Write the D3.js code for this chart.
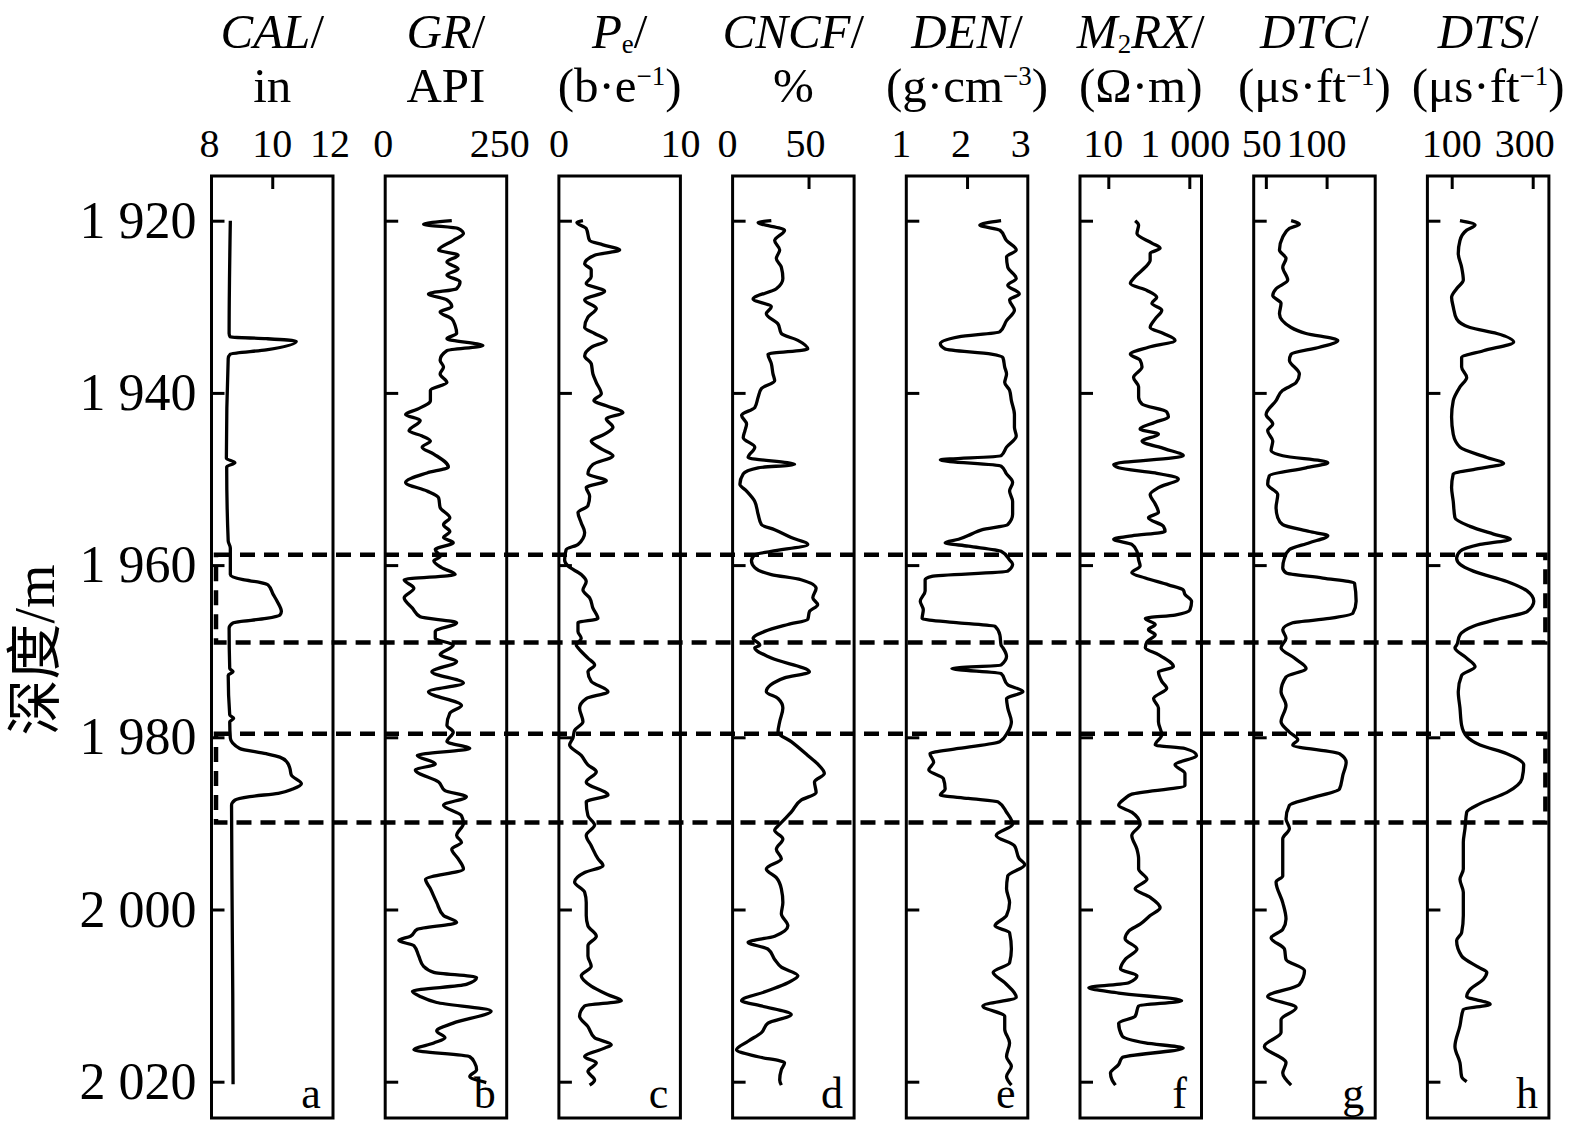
<!DOCTYPE html>
<html>
<head>
<meta charset="utf-8">
<script src="https://cdn.jsdelivr.net/npm/d3@7"></script>
<style>
html, body { margin: 0; padding: 0; background: #fff; }
svg { display: block; }
text { font-family: "Liberation Serif", "Times New Roman", serif; fill: #000; }
</style>
</head>
<body>
<svg id="chart" width="1575" height="1136"></svg>
<script>
// 深度刻度与两个解释层段
const depthTicks = [1920, 1940, 1960, 1980, 2000, 2020];
const zoneDepths = [[1958.8, 1969.0], [1979.6, 1989.9]];

// 各曲线 [深度, 值]
const calCurve = [[1920.0,8.62],[1933.1,8.58],[1933.5,8.62],[1933.7,9.8],[1934.0,10.79],[1935.0,9.8],[1935.5,8.62],[1936.0,8.55],[1947.6,8.49],[1948.1,8.77],[1948.6,8.5],[1957.2,8.55],[1958.0,8.62],[1961.1,8.62],[1961.7,9.04],[1962.0,9.59],[1962.3,9.86],[1963.4,10.03],[1964.2,10.16],[1965.4,10.3],[1965.8,10.25],[1966.2,9.8],[1966.7,8.71],[1967.3,8.58],[1972.0,8.6],[1972.4,8.71],[1972.8,8.55],[1977.4,8.6],[1977.8,8.73],[1978.2,8.6],[1980.1,8.62],[1981.3,8.93],[1981.9,9.8],[1982.3,10.25],[1982.9,10.49],[1983.6,10.58],[1984.4,10.63],[1985.4,10.96],[1986.0,10.68],[1986.5,10.2],[1986.9,9.26],[1987.3,8.77],[1987.9,8.66],[2000.0,8.68],[2010.0,8.7],[2020.3,8.71]];

const grCurve = [[1920.0,137],[1920.4,79],[1920.9,150],[1921.5,161],[1922.3,140],[1923.4,110],[1924.0,150],[1924.8,127],[1925.6,150],[1926.3,127],[1927.1,154],[1927.9,147],[1928.5,89],[1929.2,127],[1930.0,137],[1930.6,113],[1931.4,137],[1932.2,144],[1933.1,147],[1933.7,127],[1934.5,201],[1935.1,127],[1936.2,113],[1937.0,120],[1937.8,113],[1938.8,127],[1939.7,93],[1940.9,93],[1941.9,66],[1942.5,42],[1943.2,72],[1944.4,49],[1945.0,76],[1945.6,93],[1946.3,76],[1947.1,100],[1948.6,130],[1949.3,86],[1950.4,42],[1951.4,86],[1952.2,110],[1953.3,113],[1954.5,133],[1955.3,120],[1956.1,133],[1956.8,120],[1957.4,140],[1958.2,103],[1959.0,113],[1959.5,100],[1960.3,116],[1961.1,144],[1961.7,39],[1962.7,59],[1963.8,39],[1965.0,56],[1966.0,72],[1966.7,147],[1967.7,103],[1968.5,103],[1969.3,140],[1970.4,113],[1971.2,147],[1972.4,96],[1973.7,161],[1974.7,89],[1976.3,157],[1977.2,133],[1978.6,127],[1979.4,140],[1980.5,127],[1981.3,174],[1982.1,66],[1983.1,103],[1983.8,62],[1985.2,110],[1986.2,123],[1986.9,167],[1987.9,120],[1989.1,157],[1990.0,161],[1991.4,147],[1992.2,157],[1993.0,137],[1994.1,150],[1995.3,161],[1996.5,83],[1997.6,93],[1999.2,106],[2000.7,120],[2001.5,147],[2002.3,66],[2003.1,52],[2003.6,28],[2004.2,59],[2005.4,69],[2006.6,79],[2007.3,100],[2007.9,188],[2008.7,167],[2009.5,56],[2010.1,72],[2010.8,106],[2011.8,218],[2013.2,140],[2014.1,106],[2014.9,123],[2015.5,100],[2016.3,59],[2017.1,174],[2017.8,184],[2018.6,188],[2019.4,174],[2020.1,208]];

const peCurve = [[1920.0,1.98],[1920.2,1.48],[1920.9,2.25],[1922.3,2.53],[1922.8,3.63],[1923.4,5.0],[1924.0,2.94],[1925.0,2.12],[1925.7,2.66],[1926.5,2.66],[1927.3,2.25],[1928.2,3.76],[1929.2,2.12],[1930.2,3.08],[1931.2,2.39],[1932.4,2.12],[1933.1,2.94],[1933.9,3.9],[1934.7,2.66],[1935.7,2.12],[1936.6,2.66],[1937.8,2.8],[1938.8,3.08],[1940.1,3.49],[1940.9,2.88],[1941.5,3.9],[1942.3,5.27],[1943.0,3.9],[1944.0,4.45],[1944.8,3.76],[1945.6,2.66],[1946.5,3.49],[1947.3,4.45],[1948.3,2.8],[1949.4,2.39],[1950.2,3.9],[1951.0,2.25],[1952.0,2.53],[1953.1,2.39],[1953.9,1.57],[1955.1,1.84],[1956.2,2.12],[1957.6,1.57],[1958.2,0.6],[1959.4,0.47],[1960.1,0.74],[1961.1,1.84],[1961.9,2.25],[1962.9,1.98],[1963.8,2.53],[1965.0,2.8],[1966.2,3.21],[1966.7,1.57],[1967.7,1.57],[1968.5,1.84],[1969.3,1.43],[1969.6,1.57],[1970.8,2.39],[1971.6,2.94],[1972.4,2.39],[1973.5,2.66],[1974.7,4.04],[1975.5,2.25],[1976.6,1.7],[1978.2,1.98],[1979.2,1.29],[1980.1,1.15],[1980.9,0.88],[1982.1,1.84],[1983.2,2.39],[1984.0,3.08],[1985.2,2.25],[1986.7,4.04],[1987.5,2.25],[1989.1,2.39],[1990.2,2.94],[1991.4,2.25],[1992.6,2.66],[1994.1,3.21],[1994.9,3.63],[1995.7,2.12],[1996.8,1.29],[1998.0,2.12],[1999.2,2.25],[2000.7,2.25],[2001.9,2.39],[2003.1,3.08],[2004.2,2.39],[2005.4,2.39],[2006.6,2.66],[2007.7,1.84],[2008.9,2.66],[2009.9,4.04],[2010.6,5.14],[2011.2,2.12],[2012.4,1.7],[2013.6,2.39],[2014.9,2.94],[2015.7,4.31],[2016.1,3.76],[2017.1,2.12],[2017.8,3.08],[2018.8,2.39],[2019.8,2.94],[2020.4,2.53]];

const cncfCurve = [[1920.0,25.5],[1920.2,16.8],[1921.1,34.2],[1922.3,27.7],[1923.4,31.0],[1924.4,28.8],[1925.4,32.1],[1926.7,33.1],[1927.9,28.8],[1929.1,13.5],[1930.0,25.5],[1930.8,22.2],[1932.0,29.9],[1933.1,32.1],[1933.9,43.0],[1934.9,49.5],[1935.5,23.3],[1936.6,25.5],[1937.8,26.6],[1938.6,27.7],[1939.5,19.0],[1940.5,16.8],[1941.7,14.6],[1942.6,5.9],[1943.6,9.2],[1944.4,8.1],[1945.2,7.0],[1946.3,14.6],[1947.5,10.2],[1948.3,40.8],[1948.7,16.8],[1949.4,7.0],[1950.6,4.8],[1951.4,9.2],[1952.6,14.6],[1954.1,16.8],[1955.3,19.0],[1955.9,27.7],[1956.8,38.6],[1957.6,49.5],[1958.4,25.5],[1958.8,14.6],[1959.5,12.4],[1960.3,14.6],[1961.1,25.5],[1961.7,45.1],[1962.7,55.0],[1963.8,52.8],[1964.6,56.0],[1965.4,50.6],[1966.3,49.5],[1966.9,36.4],[1967.7,21.1],[1968.5,13.5],[1969.3,17.9],[1969.6,14.6],[1970.8,25.5],[1972.4,50.6],[1973.1,34.2],[1974.7,22.2],[1975.5,29.9],[1976.6,33.1],[1978.2,31.0],[1979.4,29.9],[1980.5,38.6],[1982.1,49.5],[1983.1,56.0],[1984.2,60.4],[1985.2,53.9],[1986.4,55.0],[1987.3,45.1],[1988.7,38.6],[1990.1,31.0],[1990.8,27.7],[1991.8,33.1],[1993.0,28.8],[1994.1,32.1],[1995.3,22.2],[1996.3,28.8],[1997.6,32.1],[1999.2,33.1],[2000.5,32.1],[2001.9,36.4],[2003.1,27.7],[2003.8,10.2],[2004.6,23.3],[2005.8,27.7],[2006.7,32.1],[2007.7,43.0],[2008.5,36.4],[2009.5,22.2],[2010.6,5.9],[2011.2,18.9],[2012.2,38.6],[2013.2,23.3],[2014.3,19.0],[2015.3,10.2],[2016.3,2.6],[2017.1,16.8],[2017.8,34.2],[2018.6,32.1],[2019.8,31.0],[2020.4,32.1]];

const denCurve = [[1920.0,2.56],[1920.5,2.21],[1921.1,2.54],[1922.3,2.65],[1923.4,2.81],[1924.2,2.65],[1925.4,2.67],[1926.7,2.81],[1927.5,2.67],[1928.5,2.86],[1929.2,2.70],[1930.4,2.78],[1931.6,2.65],[1932.9,2.54],[1933.5,1.86],[1934.3,1.56],[1934.9,1.64],[1935.5,2.40],[1935.9,2.59],[1937.0,2.62],[1937.8,2.65],[1938.8,2.62],[1939.7,2.70],[1940.9,2.73],[1942.5,2.78],[1944.0,2.78],[1945.0,2.81],[1946.3,2.65],[1947.3,2.56],[1947.8,1.56],[1948.5,2.56],[1949.4,2.65],[1950.4,2.75],[1951.4,2.70],[1952.6,2.75],[1954.1,2.75],[1955.3,2.67],[1955.9,2.24],[1956.4,2.07],[1957.0,1.86],[1957.4,1.64],[1957.8,2.02],[1958.4,2.56],[1959.4,2.70],[1959.9,2.75],[1960.7,2.67],[1961.3,1.42],[1961.7,1.31],[1963.0,1.31],[1964.2,1.23],[1965.2,1.28],[1966.2,1.26],[1966.7,1.86],[1967.1,2.46],[1968.1,2.54],[1969.3,2.56],[1969.6,2.59],[1970.6,2.65],[1971.6,2.56],[1972.0,1.75],[1972.6,2.56],[1973.9,2.67],[1974.7,2.92],[1975.5,2.65],[1976.6,2.67],[1978.2,2.73],[1979.4,2.67],[1980.5,2.54],[1981.3,1.86],[1981.9,1.39],[1982.9,1.45],[1983.8,1.37],[1984.8,1.61],[1986.0,1.64],[1986.7,1.56],[1987.1,2.02],[1987.5,2.51],[1988.7,2.65],[1990.1,2.75],[1991.4,2.48],[1992.6,2.78],[1994.1,2.86],[1994.8,2.95],[1996.1,2.67],[1997.6,2.65],[1999.2,2.70],[2000.7,2.65],[2001.9,2.46],[2002.7,2.70],[2004.6,2.73],[2006.2,2.70],[2007.3,2.43],[2008.5,2.62],[2010.2,2.81],[2011.2,2.26],[2012.4,2.62],[2013.9,2.62],[2015.5,2.70],[2017.1,2.65],[2018.2,2.73],[2019.4,2.65],[2020.4,2.73]];

const m2rxCurve = [[1920.0,46],[1920.5,56],[1921.5,51],[1922.6,119],[1923.2,190],[1923.8,108],[1924.6,108],[1925.4,82],[1926.5,46],[1927.3,35],[1928.1,90],[1928.9,157],[1929.6,119],[1930.4,209],[1931.4,144],[1932.4,108],[1933.1,230],[1933.9,444],[1934.7,98],[1935.5,35],[1936.2,61],[1937.0,68],[1938.2,42],[1939.3,56],[1940.5,56],[1941.3,68],[1942.2,277],[1942.8,305],[1943.4,144],[1944.2,61],[1944.8,173],[1945.6,68],[1946.5,252],[1947.3,710],[1948.3,13.6],[1948.7,18],[1949.3,144],[1950.0,536],[1951.0,173],[1951.8,108],[1952.9,144],[1953.9,173],[1954.5,98],[1955.5,230],[1956.1,252],[1956.6,38],[1957.0,13.6],[1957.6,38],[1958.4,51],[1959.4,56],[1960.1,61],[1960.9,38],[1961.5,82],[1962.3,305],[1962.9,710],[1963.4,780],[1964.2,1138],[1965.2,1036],[1965.8,444],[1966.2,82],[1966.9,144],[1967.5,98],[1968.1,144],[1968.9,90],[1969.6,82],[1970.4,173],[1971.8,404],[1972.4,173],[1973.5,209],[1974.3,277],[1975.5,131],[1976.6,173],[1978.2,173],[1979.7,209],[1980.9,144],[1981.3,780],[1982.1,1507],[1983.2,444],[1984.2,780],[1985.6,780],[1986.6,38],[1987.1,26],[1987.9,18],[1988.7,38],[1990.1,61],[1991.4,38],[1993.0,51],[1994.1,56],[1995.3,56],[1996.5,90],[1997.6,46],[1998.6,108],[1999.8,190],[2000.7,108],[2001.7,61],[2002.5,32],[2003.4,26],[2004.6,51],[2005.8,26],[2006.9,20],[2007.7,51],[2008.5,32],[2009.1,3.3],[2009.7,18],[2010.6,647],[2011.2,56],[2012.4,46],[2013.2,18],[2014.7,22],[2015.5,82],[2016.1,710],[2017.2,22],[2018.0,18],[2019.0,11.3],[2019.8,12.4],[2020.4,15]];

const dtcCurve = [[1920.0,70.8],[1920.4,77.6],[1920.9,69.4],[1921.9,63.9],[1923.4,61.2],[1924.4,66.6],[1925.4,63.9],[1926.9,68.0],[1927.9,58.4],[1928.7,55.7],[1929.6,62.5],[1930.8,61.2],[1932.4,70.8],[1933.1,83.1],[1933.9,109.2],[1934.7,94.1],[1935.5,70.8],[1936.2,69.4],[1937.8,77.6],[1938.8,74.9],[1939.7,63.9],[1940.9,58.4],[1942.5,50.2],[1943.6,55.7],[1944.4,51.5],[1945.6,55.7],[1946.7,54.3],[1947.3,63.9],[1948.1,101.0],[1948.7,83.1],[1949.6,52.9],[1950.6,51.5],[1951.8,59.8],[1953.3,58.4],[1954.5,59.8],[1955.3,63.9],[1956.1,85.9],[1956.6,101.0],[1957.4,85.9],[1958.2,69.4],[1959.2,65.3],[1960.3,63.9],[1960.9,66.6],[1961.5,96.9],[1962.1,123.0],[1964.2,124.3],[1965.6,121.6],[1966.2,102.4],[1966.7,72.1],[1967.5,63.9],[1968.5,66.6],[1969.6,62.5],[1970.8,73.5],[1972.0,83.1],[1973.0,66.6],[1974.7,62.5],[1976.3,66.6],[1978.2,62.5],[1979.4,69.4],[1980.3,76.3],[1980.9,72.1],[1981.9,110.6],[1982.9,116.1],[1984.4,113.4],[1986.0,110.6],[1987.1,85.9],[1987.9,69.4],[1989.5,66.6],[1990.6,69.4],[1991.8,63.9],[1993.7,63.9],[1996.1,63.9],[1996.8,58.4],[1999.2,63.9],[2001.1,66.6],[2002.3,63.9],[2003.3,54.3],[2004.6,65.3],[2005.8,66.6],[2007.1,81.8],[2008.7,77.6],[2010.1,51.5],[2011.4,74.9],[2012.8,62.5],[2014.3,62.5],[2015.9,48.8],[2017.8,66.6],[2019.0,63.9],[2020.4,70.8]];

const dtsCurve = [[1920.0,120.4],[1920.5,157.7],[1921.1,137.0],[1922.3,120.4],[1923.8,116.2],[1925.4,124.5],[1926.9,128.7],[1927.9,112.1],[1928.9,99.7],[1930.0,103.8],[1931.4,112.1],[1932.4,145.2],[1933.1,211.5],[1934.1,253.0],[1935.1,178.4],[1935.9,124.5],[1937.0,124.5],[1938.2,137.0],[1939.3,120.4],[1940.9,103.8],[1942.8,99.7],[1944.8,103.8],[1946.3,120.4],[1947.5,186.7],[1948.2,228.1],[1948.9,153.5],[1949.4,103.8],[1951.0,99.7],[1952.6,103.8],[1954.5,108.0],[1955.5,145.2],[1956.4,203.3],[1957.0,244.7],[1957.6,170.1],[1958.4,120.4],[1959.2,112.1],[1959.9,120.4],[1960.7,153.5],[1961.9,236.4],[1963.0,286.1],[1964.2,302.7],[1965.4,286.1],[1966.2,219.8],[1967.1,153.5],[1968.1,120.4],[1969.3,112.1],[1969.6,108.0],[1970.8,137.0],[1971.8,157.7],[1972.8,124.5],[1974.7,116.2],[1976.6,120.4],[1978.6,124.5],[1979.9,137.0],[1980.9,170.1],[1981.9,236.4],[1983.2,277.8],[1984.8,273.7],[1986.4,236.4],[1987.7,170.1],[1988.7,137.0],[1990.6,132.8],[1992.2,128.7],[1995.3,128.7],[1996.5,120.4],[1998.0,128.7],[2000.7,128.7],[2002.7,124.5],[2003.6,112.1],[2005.4,124.5],[2006.7,166.0],[2007.3,186.7],[2008.1,178.4],[2009.3,145.2],[2010.1,137.0],[2011.0,195.0],[2011.6,128.7],[2013.5,120.4],[2015.9,108.0],[2017.8,120.4],[2019.4,124.5],[2020.0,137.0]];

// 道头：曲线名、单位（片段：文字, 样式）
const trackTitles = [
  [["CAL", "i"], ["/", ""]],
  [["GR", "i"], ["/", ""]],
  [["P", "i"], ["e", "sub"], ["/", ""]],
  [["CNCF", "i"], ["/", ""]],
  [["DEN", "i"], ["/", ""]],
  [["M", "i"], ["2", "sub"], ["RX", "i"], ["/", ""]],
  [["DTC", "i"], ["/", ""]],
  [["DTS", "i"], ["/", ""]]
];
const trackUnits = [
  [["in", ""]],
  [["API", ""]],
  [["(b·e", ""], ["−1", "sup"], [")", ""]],
  [["%", ""]],
  [["(g·cm", ""], ["−3", "sup"], [")", ""]],
  [["(Ω·m)", ""]],
  [["(μs·ft", ""], ["−1", "sup"], [")", ""]],
  [["(μs·ft", ""], ["−1", "sup"], [")", ""]]
];
const trackDomains = [[8, 12], [0, 250], [0, 10], [0, 80], [1, 3], [2, 2000], [40, 140], [40, 340]];
const trackLogScale = [false, false, false, false, false, true, false, false];
const trackTopTicks = [[10], [], [], [50], [2], [10, 1000], [50, 100], [100, 300]];
const trackTickLabels = [[8, 10, 12], [0, 250], [0, 10], [0, 50], [1, 2, 3], [10, 1000], [50, 100], [100, 300]];
const trackLetters = ["a", "b", "c", "d", "e", "f", "g", "h"];
const trackCurves = [calCurve, grCurve, peCurve, cncfCurve, denCurve, m2rxCurve, dtcCurve, dtsCurve];

// 版面
const trackX0 = 211.5, trackStep = 173.7, trackW = 121.5;
const boxTop = 176, boxBottom = 1118;
const labelNudge = [[-2, 0, -3], [-2, -7], [0, 0], [-5, -3], [-5, -6, -7], [-5, -4], [-4, -10], [0, -8]];

const svg = d3.select("#chart");
const y = d3.scaleLinear().domain([1920, 2020]).range([220.7, 1081.7]);
const fmtNum = d => d3.format(",")(d).replace(/,/g, " ");

function writeSegments(textSel, segs, size) {
  let shift = 0;
  segs.forEach(([t, s]) => {
    const ts = textSel.append("tspan").text(t);
    let target = 0;
    if (s === "i") ts.style("font-style", "italic");
    if (s === "sub") { ts.style("font-size", (size * 0.55) + "px"); target = 5; }
    if (s === "sup") { ts.style("font-size", (size * 0.55) + "px"); target = -17; }
    if (target !== shift) { ts.attr("dy", target - shift); shift = target; }
  });
}

trackCurves.forEach((curve, i) => {
  const x0 = trackX0 + i * trackStep;
  const xs = (trackLogScale[i] ? d3.scaleLog() : d3.scaleLinear())
    .domain(trackDomains[i]).range([x0, x0 + trackW]);
  const g = svg.append("g");

  // 深度刻度（道内）
  const dAxis = g.append("g")
    .attr("transform", `translate(${x0},0)`)
    .call(d3.axisRight(y).tickValues(depthTicks).tickSize(13).tickSizeOuter(0).tickFormat(""));
  dAxis.select(".domain").remove();
  dAxis.selectAll("line").attr("stroke-width", 3);

  // 顶部刻度
  const tAxis = g.append("g")
    .attr("transform", `translate(0,${boxTop})`)
    .call(d3.axisBottom(xs).tickValues(trackTopTicks[i]).tickSize(13).tickSizeOuter(0).tickFormat(""));
  tAxis.select(".domain").remove();
  tAxis.selectAll("line").attr("stroke-width", 3);

  // 曲线
  const line = d3.line()
    .x(d => xs(d[1]))
    .y(d => y(d[0]))
    .curve(d3.curveMonotoneY);
  g.append("path")
    .datum(curve)
    .attr("fill", "none")
    .attr("stroke", "#000")
    .attr("stroke-width", 3.3)
    .attr("stroke-linejoin", "round")
    .attr("d", line);

  // 道框
  g.append("rect")
    .attr("x", x0).attr("y", boxTop)
    .attr("width", trackW).attr("height", boxBottom - boxTop)
    .attr("fill", "none").attr("stroke", "#000").attr("stroke-width", 3);

  // 道头
  const cx = x0 + trackW / 2;
  writeSegments(svg.append("text").attr("x", cx).attr("y", 48)
    .attr("text-anchor", "middle").style("font-size", "49px"), trackTitles[i], 49);
  writeSegments(svg.append("text").attr("x", cx).attr("y", 102)
    .attr("text-anchor", "middle").style("font-size", "49px"), trackUnits[i], 49);

  // 刻度值
  svg.selectAll(null)
    .data(trackTickLabels[i])
    .join("text")
    .attr("x", (d, k) => xs(d) + labelNudge[i][k])
    .attr("y", 157)
    .attr("text-anchor", "middle")
    .style("font-size", "40px")
    .text(fmtNum);

  // 道号
  svg.append("text")
    .attr("x", x0 + trackW - 22)
    .attr("y", boxBottom - 10)
    .attr("text-anchor", "middle")
    .style("font-size", "44px")
    .text(trackLetters[i]);
});

// 深度标注
const depthAxis = svg.append("g")
  .attr("transform", `translate(${trackX0},0)`)
  .call(d3.axisLeft(y).tickValues(depthTicks).tickSize(0).tickPadding(15).tickFormat(fmtNum));
depthAxis.select(".domain").remove();
depthAxis.selectAll("text")
  .style("font-family", "Liberation Serif")
  .style("font-size", "52px");

svg.append("text")
  .attr("transform", "translate(54,650) rotate(-90)")
  .attr("text-anchor", "middle")
  .style("font-family", "'Liberation Serif', 'Noto Sans CJK SC', serif")
  .style("font-size", "56px")
  .text("深度/m");

// 解释层段虚线框
const zoneLeft = trackX0 + 4.5;
const zoneRight = trackX0 + 7 * trackStep + trackW - 3.5;
svg.selectAll(".zone")
  .data(zoneDepths)
  .join("rect")
  .attr("class", "zone")
  .attr("x", zoneLeft)
  .attr("y", d => y(d[0]))
  .attr("width", zoneRight - zoneLeft)
  .attr("height", d => y(d[1]) - y(d[0]))
  .attr("fill", "none")
  .attr("stroke", "#000")
  .attr("stroke-width", 4.5)
  .attr("stroke-dasharray", "15,9");
</script>
</body>
</html>
